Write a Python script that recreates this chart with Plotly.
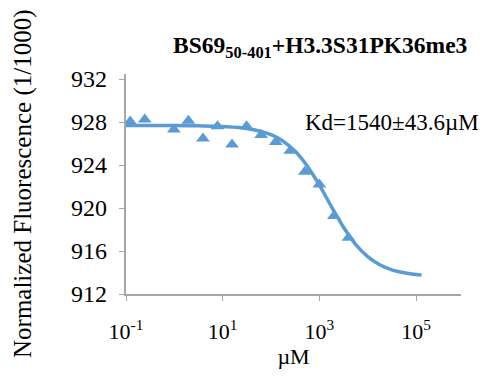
import plotly.graph_objects as go

# Measured data points (µM, normalized fluorescence)
conc = [0.122, 0.244, 0.977, 1.953, 3.906, 7.8125, 15.625, 31.25, 62.5,
        125, 250, 500, 1000, 2000, 4000]
fluor = [928.07, 928.27, 927.34, 928.15, 926.48, 927.64, 925.92, 927.62, 926.81,
         926.16, 925.34, 923.4, 922.2, 919.27, 917.25]

# Fit curve
fit_conc = [0.1, 1, 3.16, 10, 31.6, 100, 178, 316, 562, 1000, 1778, 3162,
            5623, 10000, 17783, 31623, 56234, 100000, 130000]
fit_fluor = [927.70, 927.69, 927.67, 927.61, 927.42, 926.84, 926.24, 925.30,
             923.93, 922.15, 920.14, 918.22, 916.63, 915.48, 914.72, 914.25,
             913.98, 913.81, 913.77]

y_ticks = [912, 916, 920, 924, 928, 932]
y_ticktext = ["912", "916", "920", "924", "928", "932"]
x_tickvals = [0.1, 10, 1000, 100000]
x_ticktext = ["10<sup>-1</sup>", "10<sup>1</sup>", "10<sup>3</sup>", "10<sup>5</sup>"]

blue = "#5B9BD5"
serif = "Liberation Serif"

W, H = 487, 379
L, R, T, B = 118, 34, 66, 93
pw, ph = W - L - R, H - T - B


def px(xp):
    return (xp - L) / pw


def py(yp):
    return (H - B - yp) / ph


fig = go.Figure()
fig.add_trace(go.Scatter(x=fit_conc, y=fit_fluor, mode="lines",
                         line=dict(color=blue, width=3.5, shape="spline"),
                         showlegend=False, hoverinfo="skip"))
fig.add_trace(go.Scatter(x=conc, y=fluor, mode="markers",
                         marker=dict(symbol="triangle-up", size=12, color=blue),
                         showlegend=False))

annotations = [
    dict(text="<b>BS69<sub>50-401</sub>+H3.3S31PK36me3</b>", x=px(312), y=py(39),
         xref="paper", yref="paper", xanchor="center", yanchor="middle",
         showarrow=False, font=dict(family=serif, size=23.5)),
    dict(text="Kd=1540±43.6µM", x=px(295), y=py(114), xref="paper", yref="paper",
         xanchor="left", yanchor="middle", showarrow=False,
         font=dict(family=serif, size=23)),
    dict(text="Normalized Fluorescence (1/1000)", textangle=-90,
         x=px(15), y=py(176), xref="paper", yref="paper",
         xanchor="center", yanchor="middle", showarrow=False,
         font=dict(family=serif, size=25)),
]
# y tick labels, placed as text next to the axis
for v, t in zip(y_ticks, y_ticktext):
    annotations.append(dict(text=t, x=px(101), y=v, xref="paper", yref="y",
                            xanchor="right", yanchor="middle", showarrow=False,
                            font=dict(family=serif, size=24)))

fig.update_layout(
    width=W, height=H,
    margin=dict(l=L, r=R, t=T, b=B, autoexpand=False),
    paper_bgcolor="white", plot_bgcolor="white",
    font=dict(family=serif, color="black"),
    xaxis=dict(type="log", range=[-1, 5.93], tickvals=x_tickvals, ticktext=x_ticktext,
               showline=True, linecolor="#A6A6A6", linewidth=1.5,
               ticks="outside", ticklen=5, tickcolor="#A6A6A6",
               showgrid=False, zeroline=False, automargin=False,
               ticklabelstandoff=12,
               tickfont=dict(family=serif, size=22),
               title=dict(text="µM", font=dict(family=serif, size=22), standoff=2)),
    yaxis=dict(range=[912, 932.5], tickvals=y_ticks, showticklabels=False,
               showline=True, linecolor="#A6A6A6", linewidth=1.5,
               ticks="outside", ticklen=5, tickcolor="#A6A6A6",
               showgrid=False, zeroline=False, automargin=False),
    annotations=annotations,
)

fig.write_html("out.html")
